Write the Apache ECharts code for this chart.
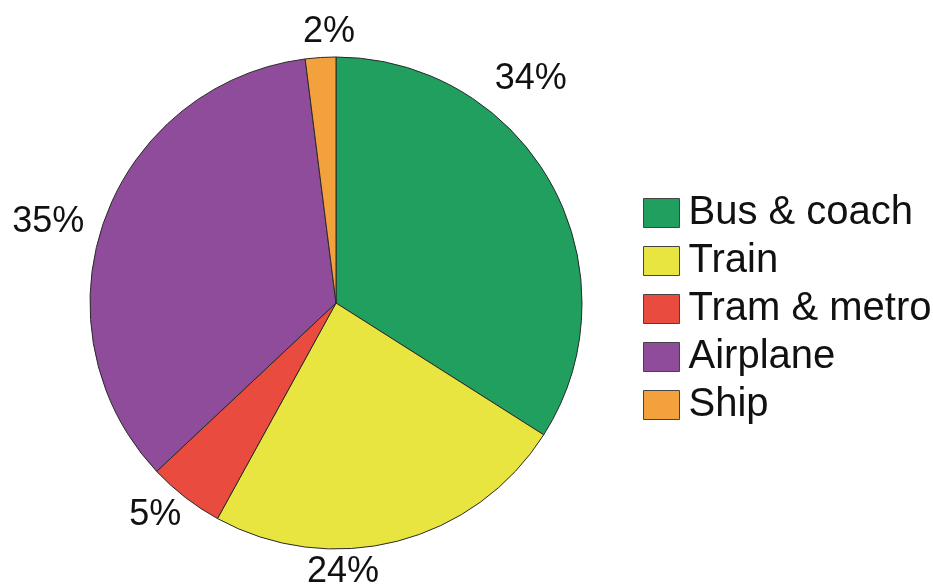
<!DOCTYPE html>
<html>
<head>
<meta charset="utf-8">
<script src="https://cdn.jsdelivr.net/npm/echarts@6/dist/echarts.min.js"></script>
<style>
html,body{margin:0;padding:0;background:#fff;}
#chart{width:933px;height:585px;}
</style>
</head>
<body>
<div id="chart"></div>
<script>
// Data
var categories = ['Bus & coach', 'Train', 'Tram & metro', 'Airplane', 'Ship'];
var shares = [34, 24, 5, 35, 2];
var labels = ['34%', '24%', '5%', '35%', '2%'];
var colors = ['#219f5f', '#e9e540', '#e94b3f', '#8e4c9b', '#f2a13c'];

// Label placement (polar, around the pie centre): angle clockwise from top (deg), distance (px)
var labelAngle = [41, 178.5, 220.4, 285.7, -1.5];
var labelDist = [297, 269, 279, 299, 271];

var CX = 336, CY = 303, R = 246;

var chart = echarts.init(document.getElementById('chart'), null, {renderer: 'canvas'});
var data = categories.map(function (c, i) {
  return {name: c, value: shares[i], itemStyle: {color: colors[i]}};
});

chart.setOption({
  animation: false,
  backgroundColor: '#ffffff',
  legend: {
    orient: 'vertical',
    left: 638,
    top: 188,
    itemWidth: 36,
    itemHeight: 29,
    itemGap: 8,
    icon: 'rect',
    selectedMode: false,
    data: categories,
    textStyle: {
      fontFamily: 'Liberation Sans, Arial, sans-serif',
      fontSize: 40,
      color: '#111',
      padding: [0, 0, 0, 4]
    },
    itemStyle: {borderColor: '#444', borderWidth: 1}
  },
  series: [{
    type: 'pie',
    center: [CX, CY],
    radius: R,
    startAngle: 90,
    clockwise: true,
    avoidLabelOverlap: false,
    data: data,
    itemStyle: {borderColor: '#2a2a2a', borderWidth: 1},
    emphasis: {disabled: true},
    label: {
      show: true,
      position: 'outside',
      formatter: function (p) { return labels[p.dataIndex]; },
      fontFamily: 'Liberation Sans, Arial, sans-serif',
      fontSize: 36,
      color: '#111'
    },
    labelLine: {show: false},
    labelLayout: function (p) {
      var a = labelAngle[p.dataIndex] * Math.PI / 180;
      var d = labelDist[p.dataIndex];
      return {
        x: CX + d * Math.sin(a),
        y: CY - d * Math.cos(a),
        align: 'center',
        verticalAlign: 'middle'
      };
    }
  }]
});
</script>
</body>
</html>
